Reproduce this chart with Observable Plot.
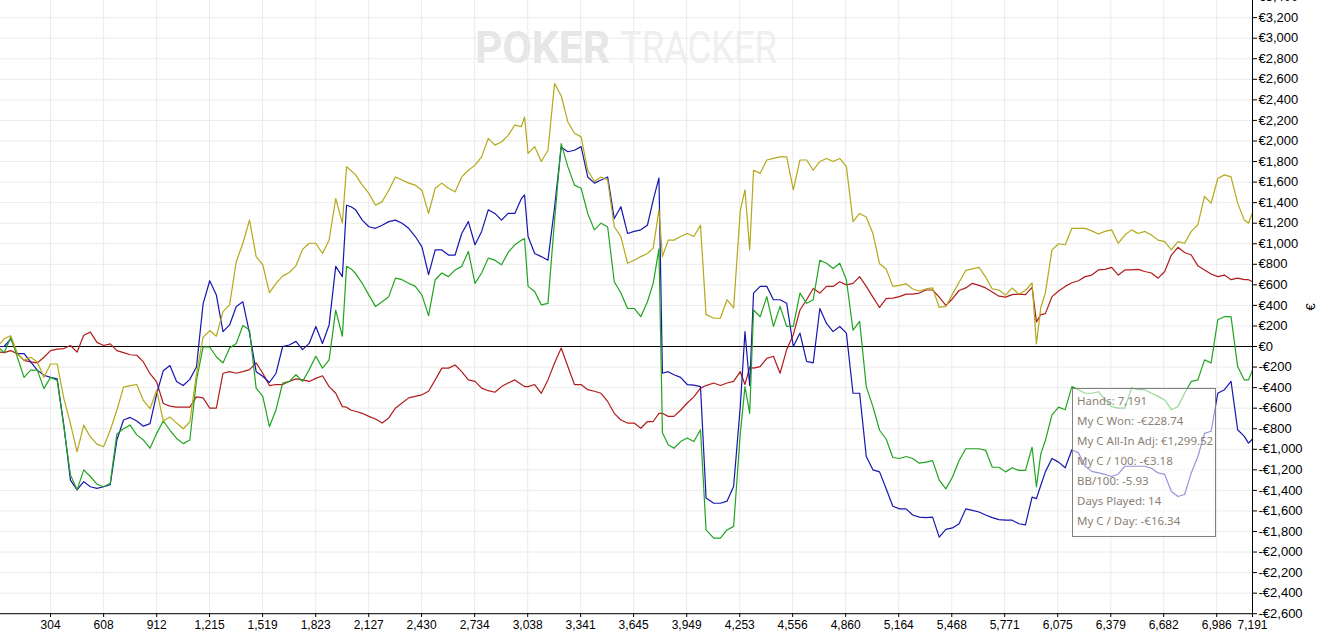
<!DOCTYPE html>
<html>
<head>
<meta charset="utf-8">
<script src="https://cdn.jsdelivr.net/npm/d3@7"></script>
<script src="https://cdn.jsdelivr.net/npm/@observablehq/plot@0.6"></script>
<style>
  html, body { margin: 0; padding: 0; background: #fff; }
  #chart { position: relative; width: 1320px; height: 639px; overflow: hidden; }
</style>
</head>
<body>
<div id="chart"></div>
<script>
// ---- Data ----
const hands = [
  0, 38, 76, 114, 152, 190, 228, 266, 304, 342,
  380, 418, 456, 494, 532, 570, 608, 646, 684, 722,
  760, 798, 836, 874, 912, 950, 988, 1026, 1064, 1102,
  1140, 1178, 1216, 1254, 1292, 1330, 1368, 1406, 1444, 1482,
  1520, 1558, 1596, 1634, 1672, 1710, 1748, 1786, 1824, 1862,
  1900, 1938, 1976, 2000, 2026, 2052, 2090, 2128, 2166, 2204,
  2242, 2280, 2318, 2356, 2394, 2432, 2470, 2508, 2546, 2584,
  2622, 2660, 2698, 2736, 2774, 2812, 2850, 2888, 2926, 2964,
  3002, 3020, 3040, 3078, 3116, 3154, 3192, 3230, 3268, 3306,
  3344, 3382, 3420, 3458, 3496, 3534, 3572, 3610, 3648, 3686,
  3724, 3757, 3790, 3810, 3843, 3876, 3914, 3952, 3990, 4028,
  4060, 4104, 4142, 4180, 4218, 4256, 4283, 4310, 4332, 4370,
  4408, 4446, 4484, 4522, 4560, 4598, 4636, 4674, 4712, 4750,
  4788, 4826, 4864, 4902, 4940, 4978, 5016, 5054, 5092, 5130,
  5168, 5206, 5244, 5282, 5320, 5358, 5396, 5434, 5472, 5510,
  5548, 5586, 5624, 5662, 5700, 5738, 5776, 5814, 5852, 5890,
  5928, 5953, 5978, 6004, 6042, 6080, 6118, 6156, 6194, 6232,
  6270, 6308, 6346, 6384, 6422, 6460, 6498, 6536, 6574, 6612,
  6650, 6688, 6726, 6764, 6802, 6840, 6878, 6916, 6954, 6992,
  7030, 7068, 7106, 7144, 7168, 7191
];

// green: My C Won
const wonValues = [
  0, -60, 90, -105, -300, -230, -230, -410, -300, -330,
  -780, -1250, -1395, -1200, -1265, -1340, -1365, -1330, -850, -800,
  -765, -860, -910, -990, -845, -725, -815, -895, -945, -910,
  -330, -5, -5, -100, -160, -15, 30, 205, 160, -405,
  -485, -780, -615, -355, -340, -275, -340, -225, -95, -210,
  -130, 355, 100, 780, 755, 710, 615, 500, 390, 435,
  485, 665, 650, 615, 585, 500, 300, 650, 715, 680,
  745, 780, 925, 615, 715, 860, 840, 795, 915, 990,
  1035, 1050, 585, 535, 405, 420, 1230, 1975, 1750, 1570,
  1540, 1295, 1135, 1200, 1165, 630, 520, 370, 370, 290,
  435, 615, 950, -840, -955, -990, -925, -890, -925, -810,
  -1785, -1865, -1865, -1785, -1750, -850, -390, -650, 355, 290,
  485, 195, 390, 195, 195, 520, 420, 455, 840, 810,
  760, 810, 650, 160, 245, -390, -585, -815, -900, -1080,
  -1090, -1070, -1090, -1135, -1125, -1110, -1300, -1385, -1270, -1110,
  -995, -995, -995, -1010, -1175, -1175, -1220, -1180, -1205, -1205,
  -980, -1365, -1045, -915, -665, -590, -615, -390, -420, -455,
  -455, -440, -520, -585, -600, -600, -405, -420, -420, -455,
  -485, -520, -615, -585, -455, -340, -325, -130, -160, 260,
  290, 290, -195, -325, -325, -229
];

// blue
const blueValues = [
  0, 0, 75, -70, -70, -150, -230, -280, -300, -315,
  -765, -1300, -1395, -1315, -1365, -1380, -1365, -1345, -910, -715,
  -690, -725, -775, -750, -460, -235, -185, -340, -380, -320,
  -200, 415, 640, 500, 145, 210, 390, 435, 130, -245,
  -290, -350, -260, 0, 15, 50, -30, 30, 195, 30,
  210, 780, 680, 1375, 1360, 1330, 1230, 1165, 1150, 1180,
  1215, 1230, 1200, 1150, 1070, 970, 700, 940, 940, 890,
  890, 1100, 1215, 990, 1120, 1330, 1295, 1230, 1295, 1295,
  1440, 1475, 1070, 905, 875, 840, 1355, 1940, 1895, 1910,
  1945, 1650, 1590, 1620, 1650, 1245, 1360, 1100, 1120, 1135,
  1180, 1425, 1640, -260, -245, -275, -300, -370, -375, -390,
  -1475, -1525, -1525, -1505, -1360, -585, 145, -380, 520, 585,
  585, 455, 455, 420, 0, 130, -145, -160, 370, 225,
  145, 195, 130, -455, -455, -1070, -1200, -1220, -1385, -1555,
  -1580, -1580, -1640, -1660, -1665, -1660, -1855, -1780, -1765, -1725,
  -1580, -1595, -1610, -1640, -1665, -1685, -1690, -1690, -1725, -1735,
  -1465, -1480, -1350, -1220, -1090, -1125, -1180, -1005, -1035, -1165,
  -1215, -1230, -1245, -1265, -1240, -1165, -1165, -1165, -1165, -1185,
  -1230, -1245, -1410, -1460, -1440, -1230, -1070, -845, -825, -455,
  -420, -340, -810, -875, -940, -900
];

// red
const redValues = [
  -50, -60, -40, -70, -135, -150, -160, -105, -40, -25,
  -20, 10, -55, 110, 140, 40, 10, 25, -40, -60,
  -80, -85, -150, -265, -345, -555, -580, -590, -590, -590,
  -490, -500, -600, -600, -260, -245, -260, -245, -225, -160,
  -260, -380, -370, -370, -340, -315, -325, -340, -310, -285,
  -390, -455, -585, -590, -620, -630, -650, -680, -705, -745,
  -695, -600, -550, -500, -485, -470, -435, -325, -210, -210,
  -180, -245, -325, -340, -405, -430, -445, -390, -355, -325,
  -370, -390, -390, -370, -455, -325, -160, -15, -195, -370,
  -370, -420, -435, -455, -535, -650, -715, -745, -745, -795,
  -730, -730, -650, -650, -680, -680, -620, -550, -490, -405,
  -380, -355, -380, -355, -340, -245, -370, -200, -210, -195,
  -115, -95, -260, -30, 115, 355, 455, 565, 520, 585,
  585, 630, 600, 615, 680, 585, 480, 380, 465, 470,
  485, 510, 510, 520, 550, 550, 480, 400, 465, 545,
  570, 615, 595, 570, 530, 490, 480, 505, 510, 505,
  575, 240, 310, 320, 485, 540, 585, 620, 640, 680,
  695, 745, 750, 770, 695, 745, 745, 750, 730, 715,
  665, 730, 890, 965, 915, 890, 785, 745, 705, 680,
  695, 650, 665, 650, 650, 630
];

// yellow: My C All-In Adj
const allInValues = [
  0, 75, 105, -70, -135, -105, -150, -300, -170, -170,
  -505, -750, -1025, -765, -880, -950, -975, -815, -620, -395,
  -380, -370, -525, -605, -425, -725, -685, -745, -800, -735,
  -265, 90, 155, 100, 340, 405, 825, 1005, 1230, 875,
  795, 525, 615, 685, 720, 785, 945, 1005, 1005, 905,
  1035, 1440, 1200, 1750, 1710, 1670, 1570, 1490, 1375, 1410,
  1520, 1650, 1620, 1590, 1570, 1520, 1295, 1540, 1590, 1540,
  1505, 1650, 1715, 1765, 1845, 2025, 1960, 1990, 2055, 2155,
  2140, 2235, 1880, 1945, 1800, 1910, 2560, 2440, 2185, 2075,
  2040, 1715, 1605, 1650, 1620, 1165, 1070, 810, 840, 875,
  905, 955, 1330, 875, 1035, 1035, 1070, 1100, 1070, 1180,
  310, 275, 275, 455, 375, 1320, 1525, 940, 1715, 1685,
  1815, 1830, 1845, 1845, 1525, 1815, 1815, 1715, 1800, 1830,
  1800, 1830, 1750, 1215, 1295, 1260, 1100, 805, 755, 585,
  595, 610, 560, 540, 560, 570, 380, 390, 510, 625,
  740, 755, 770, 675, 560, 550, 500, 570, 510, 545,
  620, 25, 380, 520, 940, 1000, 990, 1150, 1150, 1150,
  1125, 1095, 1120, 1135, 1005, 1085, 1135, 1100, 1120, 1085,
  1035, 1020, 940, 1020, 1005, 1120, 1185, 1460, 1395, 1635,
  1670, 1650, 1395, 1230, 1200, 1300
];

const seriesNames = ["Red", "Blue", "Green", "Yellow"];
const seriesColors = ["#b21c1c", "#1616b0", "#1fa51f", "#b4a918"];
const seriesValues = [redValues, blueValues, wonValues, allInValues];

const xTicks = [304, 608, 912, 1215, 1519, 1823, 2127, 2430, 2734, 3038, 3341, 3645,
  3949, 4253, 4556, 4860, 5164, 5468, 5771, 6075, 6379, 6682, 6986, 7191];
const yTicks = [-2600, -2400, -2200, -2000, -1800, -1600, -1400, -1200, -1000, -800, -600, -400, -200,
  0, 200, 400, 600, 800, 1000, 1200, 1400, 1600, 1800, 2000, 2200, 2400, 2600, 2800, 3000, 3200, 3400];

const tooltipLines = [
  "Hands: 7,191",
  "My C Won: -€228.74",
  "My C All-In Adj: €1,299.52",
  "My C / 100: -€3.18",
  "BB/100: -5.93",
  "Days Played: 14",
  "My C / Day: -€16.34"
];

// ---- Chart ----
const num = d3.format(",");
const fmtHands = v => num(v);
const fmtEuro = v => (v < 0 ? "-€" : "€") + num(Math.abs(v));

const lineMarks = seriesNames.map((name, k) =>
  Plot.line(hands.map((h, i) => ({hand: h, value: seriesValues[k][i], series: name})),
    {x: "hand", y: "value", stroke: seriesColors[k], strokeWidth: 1.2, strokeLinejoin: "round"})
);

const chart = Plot.plot({
  width: 1320,
  height: 639,
  marginTop: 0,
  marginLeft: 0,
  marginRight: 68,
  marginBottom: 26,
  style: {fontFamily: "'Liberation Sans', Arial, sans-serif", fontSize: "12px", background: "#fff", color: "#000"},
  x: {domain: [0, 7191], range: [-3, 1252]},
  y: {domain: [-2600, 3400], range: [613.2, -3.4]},
  marks: [
    Plot.gridX(xTicks, {stroke: "#ebebeb", strokeOpacity: 1}),
    Plot.gridY(yTicks, {stroke: "#ebebeb", strokeOpacity: 1}),
    Plot.ruleY([0], {stroke: "#000", strokeWidth: 1}),
    ...lineMarks,
    Plot.ruleY([-2600], {stroke: "#000"}),
    Plot.ruleX([7191], {stroke: "#000"}),
    Plot.axisX(xTicks, {tickFormat: fmtHands, tickSize: 4, tickPadding: 3, fontSize: 12, label: null}),
    Plot.axisY(yTicks, {anchor: "right", tickFormat: fmtEuro, tickSize: 4, tickPadding: 2, fontSize: 13,
      label: "€", labelAnchor: "center", labelArrow: "none", labelOffset: 62})
  ]
});

document.getElementById("chart").appendChild(chart);

// ---- Watermark (behind grid) ----
const svg = d3.select(chart);
const wm = svg.insert("g", "g").attr("aria-label", "watermark").attr("text-anchor", "start");
wm.append("text").attr("x", 475).attr("y", 63)
  .attr("text-anchor", "start")
  .attr("font-family", "Roboto, 'Liberation Sans', sans-serif").attr("font-weight", 700)
  .attr("font-size", 45).attr("fill", "#e6e6e6")
  .attr("textLength", 135).attr("lengthAdjust", "spacingAndGlyphs")
  .text("POKER");
wm.append("text").attr("x", 620).attr("y", 63)
  .attr("text-anchor", "start")
  .attr("font-family", "Roboto, 'Liberation Sans', sans-serif").attr("font-weight", 400)
  .attr("font-size", 45).attr("fill", "#efefef")
  .attr("textLength", 157).attr("lengthAdjust", "spacingAndGlyphs")
  .text("TRACKER");

// ---- Tooltip box ----
const tip = svg.append("g").attr("aria-label", "tooltip").attr("text-anchor", "start");
tip.append("rect").attr("x", 1072.5).attr("y", 388.5).attr("width", 143).attr("height", 148)
  .attr("fill", "#fff").attr("fill-opacity", 0.55).attr("stroke", "#808080").attr("stroke-width", 1);
tip.selectAll("text.tl").data(tooltipLines).join("text")
  .attr("class", "tl")
  .attr("text-anchor", "start")
  .attr("x", 1077).attr("y", (d, i) => 405 + i * 20)
  .attr("font-family", "'Noto Sans', 'Open Sans', sans-serif").attr("font-size", 11.5)
  .attr("fill", "#8b7f74")
  .text(d => d);
</script>
</body>
</html>
